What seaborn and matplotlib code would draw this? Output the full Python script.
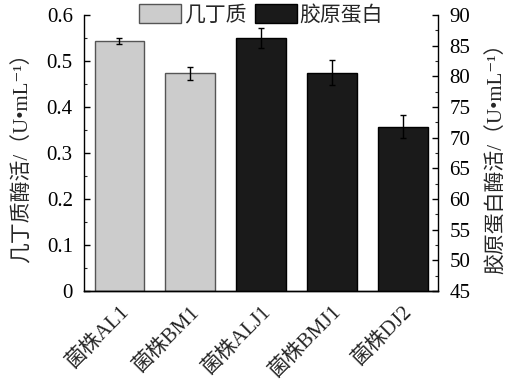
import matplotlib
matplotlib.use("Agg")
import matplotlib.pyplot as plt
import seaborn as sns
import pandas as pd
from matplotlib.patches import Patch
from matplotlib.ticker import MultipleLocator

# strains on the x axis
strains = ["菌株AL1", "菌株BM1", "菌株ALJ1", "菌株BMJ1", "菌株DJ2"]

# chitinase activity (left axis)
chitin_strains = ["菌株AL1", "菌株BM1"]
chitin_vals = [0.543, 0.473]
chitin_err = [0.006, 0.014]

# collagenase activity (right axis)
coll_strains = ["菌株ALJ1", "菌株BMJ1", "菌株DJ2"]
coll_vals = [86.2, 80.6, 71.8]
coll_err = [1.6, 2.0, 1.9]

fonts = ["Liberation Serif", "Noto Sans CJK SC", "DejaVu Serif"]

sns.set_theme(style="ticks")
plt.rcParams["font.family"] = fonts

fig = plt.figure(figsize=(5.09, 3.91), dpi=100)
ax = fig.add_axes([0.165, 0.256, 0.696, 0.706])
ax2 = ax.twinx()

chitin_df = pd.DataFrame({"strain": chitin_strains, "value": chitin_vals})
coll_df = pd.DataFrame({"strain": coll_strains, "value": coll_vals})

sns.barplot(data=chitin_df, x="strain", y="value", order=strains, ax=ax,
            color="#cccccc", edgecolor="#555555", linewidth=1.0,
            width=0.7, saturation=1, errorbar=None)
sns.barplot(data=coll_df, x="strain", y="value", order=strains, ax=ax2,
            color="#1a1a1a", edgecolor="#000000", linewidth=1.0,
            width=0.7, saturation=1, errorbar=None)

# error bars placed at the categorical positions
ax.errorbar([strains.index(s) for s in chitin_strains], chitin_vals, yerr=chitin_err,
            fmt="none", ecolor="black", elinewidth=1, capsize=2.5, capthick=1)
ax2.errorbar([strains.index(s) for s in coll_strains], coll_vals, yerr=coll_err,
             fmt="none", ecolor="black", elinewidth=1, capsize=2.5, capthick=1)

ax.set_xlim(-0.5, 4.5)
ax.set_ylim(0, 0.6)
ax2.set_ylim(45, 90)

ax.yaxis.set_major_locator(MultipleLocator(0.1))
ax.yaxis.set_minor_locator(MultipleLocator(0.05))
ax2.yaxis.set_major_locator(MultipleLocator(5))
ax2.yaxis.set_minor_locator(MultipleLocator(2.5))
ax.set_yticks([0, 0.1, 0.2, 0.3, 0.4, 0.5, 0.6])
ax.set_yticklabels(["0", "0.1", "0.2", "0.3", "0.4", "0.5", "0.6"])

for a in (ax, ax2):
    a.spines["top"].set_visible(False)
    for sp in a.spines.values():
        sp.set_linewidth(1.0)
        sp.set_color("black")
    a.tick_params(axis="y", which="major", direction="in", length=4, width=1,
                  labelsize=15, pad=8, colors="black")
    a.tick_params(axis="y", which="minor", direction="in", length=2.5, width=0.8)
    a.set_xlabel("")
ax2.spines["left"].set_visible(False)
ax.spines["right"].set_visible(False)

ax.tick_params(axis="x", direction="in", length=4, width=1, labelsize=15, pad=8,
               color="#444444")
ax.set_xticks(range(len(strains)))
ax.set_xticklabels(strains, rotation=45, ha="right", rotation_mode="anchor")
ax2.tick_params(axis="x", bottom=False, labelbottom=False)

ax.set_ylabel("几丁质酶活/（U•mL⁻¹）", fontsize=15, labelpad=10)
ax2.set_ylabel("胶原蛋白酶活/（U•mL⁻¹）", fontsize=15, labelpad=12)

handles = [Patch(facecolor="#cccccc", edgecolor="#555555", label="几丁质"),
           Patch(facecolor="#1a1a1a", edgecolor="#000000", label="胶原蛋白")]
ax.legend(handles=handles, loc="center", bbox_to_anchor=(0.5, 1.0), ncol=2,
          frameon=False, fontsize=15, handlelength=2.0, handleheight=1.0,
          handletextpad=0.15, columnspacing=0.4, borderaxespad=0)

fig.savefig("out.png", dpi=100)
